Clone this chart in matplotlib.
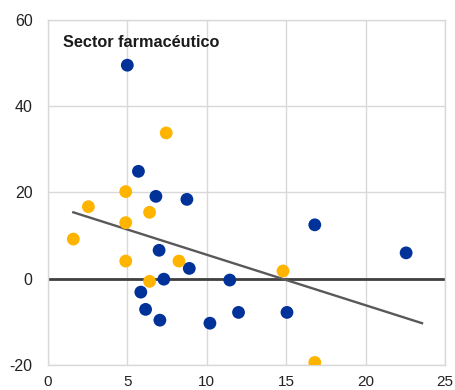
import matplotlib
matplotlib.use("Agg")
import matplotlib.pyplot as plt

# blue series
blue_x = [5.0, 5.7, 6.8, 8.75, 7.0, 8.9, 7.3, 5.85, 6.15, 7.05, 10.2, 11.45, 12.0, 15.05, 16.8, 22.55]
blue_y = [49.5, 24.9, 19.1, 18.4, 6.6, 2.4, -0.1, -3.1, -7.1, -9.6, -10.3, -0.3, -7.8, -7.8, 12.5, 6.0]

# orange series
orange_x = [7.45, 4.9, 2.55, 6.4, 4.9, 1.6, 4.9, 8.25, 6.4, 14.8, 16.8]
orange_y = [33.8, 20.2, 16.7, 15.4, 13.0, 9.2, 4.1, 4.1, -0.6, 1.8, -19.4]

# trend line ends
trend_x = [1.6, 23.55]
trend_y = [15.4, -10.3]

xticks = [0, 5, 10, 15, 20, 25]
yticks = [-20, 0, 20, 40, 60]

plt.rcParams['font.family'] = ['Liberation Sans', 'DejaVu Sans']
plt.rcParams['axes.unicode_minus'] = False

fig = plt.figure(figsize=(4.56, 3.9), dpi=100)
ax = fig.add_axes([0.105, 0.064, 0.871, 0.885])

ax.axhline(0, color='#404040', lw=2.0, zorder=2)
ax.plot(trend_x, trend_y, color='#595959', lw=1.7, zorder=3)
ax.scatter(blue_x, blue_y, s=85, color='#003299', edgecolors='none', zorder=4)
ax.scatter(orange_x, orange_y, s=85, color='#FFB400', edgecolors='none', zorder=4)

ax.set_xlim(0, 25)
ax.set_ylim(-20, 60)
ax.set_xticks(xticks)
ax.set_yticks(yticks)
ax.grid(True, color='#d9d9d9', lw=1.0, zorder=0)
ax.set_axisbelow(True)
for s in ax.spines.values():
    s.set_color('#d9d9d9')
    s.set_linewidth(1.0)
ax.tick_params(length=0, labelsize=11.5, colors='#222222')
ax.tick_params(axis='y', pad=11)
ax.tick_params(axis='x', pad=7, labelsize=11)

ax.text(0.038, 0.935, 'Sector farmacéutico', transform=ax.transAxes,
        fontsize=11.7, fontweight='bold', color='#1a1a1a', va='center', ha='left')

fig.savefig('out.png', dpi=100)
